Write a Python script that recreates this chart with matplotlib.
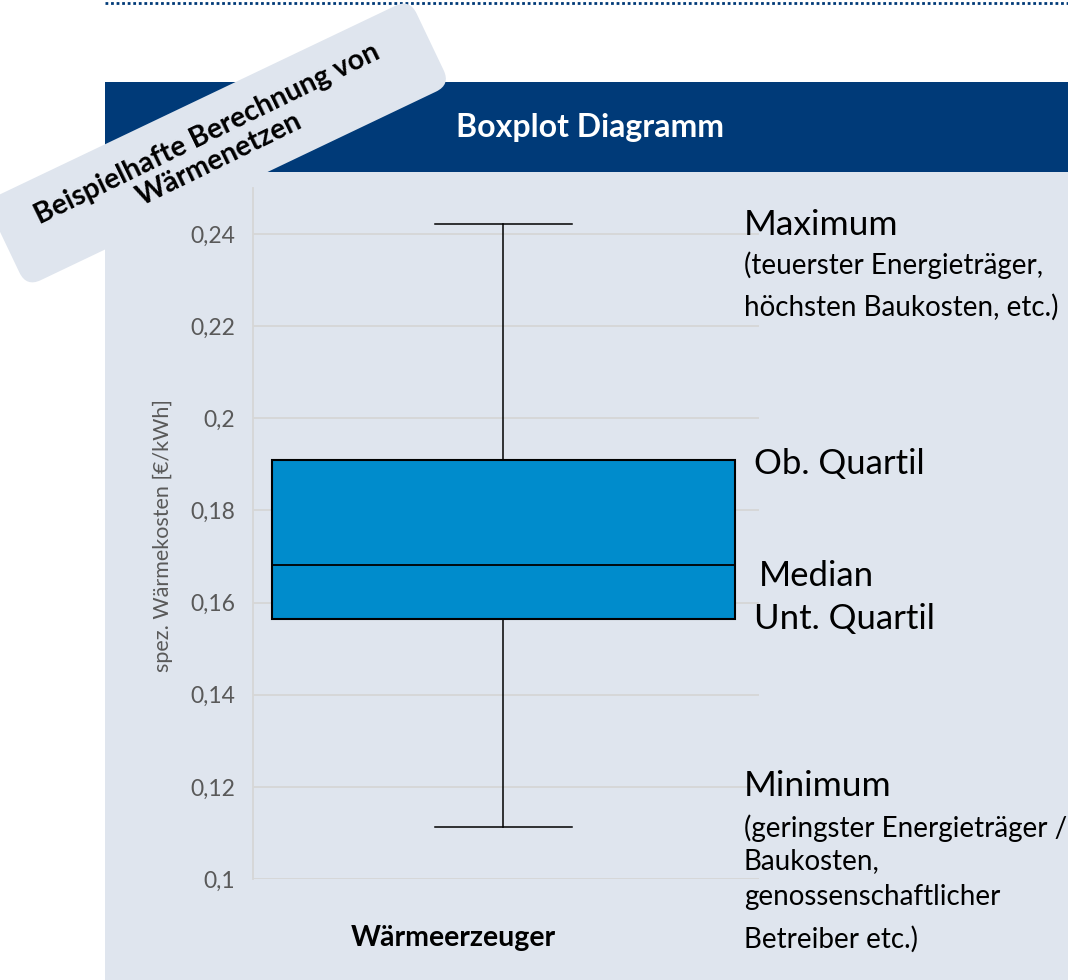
import matplotlib

matplotlib.use("Agg")
import matplotlib.pyplot as plt
from matplotlib.patches import FancyBboxPatch, Rectangle
from matplotlib.transforms import Affine2D

plt.rcParams["font.family"] = ["Lato", "DejaVu Sans"]

# box statistics
category = "Wärmeerzeuger"
whisker_low = 0.1113
q1 = 0.1564
median = 0.1682
q3 = 0.191
whisker_high = 0.2422

y_ticks = [0.10, 0.12, 0.14, 0.16, 0.18, 0.20, 0.22, 0.24]
y_tick_labels = ["0,1", "0,12", "0,14", "0,16", "0,18", "0,2", "0,22", "0,24"]

max_notes = ["Maximum", "(teuerster Energieträger,", "höchsten Baukosten, etc.)"]
min_notes = ["Minimum", "(geringster Energieträger /", "Baukosten,", "genossenschaftlicher", "Betreiber etc.)"]

W, H = 1068, 980
NAVY = "#003a78"
PANEL = "#dfe5ee"
BOX = "#008ccc"
GRID = "#d6d6d6"

fig = plt.figure(figsize=(W / 100, H / 100), dpi=100)
fig.patch.set_facecolor("white")

# background layer in pixel coordinates (y measured from top)
bg = fig.add_axes([0, 0, 1, 1], zorder=0)
bg.set_xlim(0, W)
bg.set_ylim(H, 0)
bg.axis("off")
bg.add_patch(Rectangle((105, 82), W - 105, H - 82, facecolor=PANEL, edgecolor="none"))
bg.add_patch(Rectangle((105, 82), W - 105, 90, facecolor=NAVY, edgecolor="none"))
bg.plot([105, W], [3, 3], color=NAVY, linestyle=(0, (1, 1)), linewidth=2.0)
bg.text(590, 128, "Boxplot Diagramm", color="white", fontsize=23, fontweight="bold",
        ha="center", va="center")

# main chart
left, right, top, bottom = 253, 759, 188, 879
ax = fig.add_axes([left / W, (H - bottom) / H, (right - left) / W, (bottom - top) / H], zorder=1)
ax.patch.set_alpha(0)
stats = [{
    "whislo": whisker_low, "q1": q1, "med": median, "q3": q3, "whishi": whisker_high,
    "fliers": [], "label": category,
}]
ax.bxp(stats, positions=[0.495], widths=[0.916], capwidths=[0.27], patch_artist=True,
       showfliers=False,
       boxprops=dict(facecolor=BOX, edgecolor="black", linewidth=1.5),
       medianprops=dict(color="black", linewidth=1.3),
       whiskerprops=dict(color="black", linewidth=1.1),
       capprops=dict(color="black", linewidth=1.1))
ax.set_xlim(0, 1)
ax.set_ylim(0.1, 0.25)
ax.set_yticks(y_ticks)
ax.set_yticklabels(y_tick_labels, fontsize=16.5, color="#595959")
ax.tick_params(axis="y", length=0, pad=13)
ax.set_xticks([])
ax.grid(axis="y", color=GRID, linewidth=1.3)
ax.set_axisbelow(True)
for side in ["top", "right", "bottom"]:
    ax.spines[side].set_visible(False)
ax.spines["left"].set_color(GRID)
ax.spines["left"].set_linewidth(1.3)

fig.text(163 / W, 1 - 536 / H, "spez. Wärmekosten [€/kWh]", rotation=90, color="#595959",
         fontsize=15.5, ha="center", va="center")
fig.text(453 / W, 1 - 938 / H, category, fontsize=20.5, fontweight="bold", ha="center", va="center")

# annotations on the right
ov = fig.add_axes([0, 0, 1, 1], zorder=3)
ov.set_xlim(0, W)
ov.set_ylim(0, H)
ov.axis("off")


def note(x, y, s, size):
    ov.text(x, H - y, s, fontsize=size, ha="left", va="baseline", color="black")


note(744, 235, max_notes[0], 25.5)
for y, line in zip([274, 316], max_notes[1:]):
    note(744, y, line, 20)
note(754, 474, "Ob. Quartil", 25)
note(759, 586, "Median", 25)
note(754, 629, "Unt. Quartil", 25)
note(744, 796, min_notes[0], 25.5)
for y, line in zip([837, 869, 905, 948], min_notes[1:]):
    note(744, y, line, 20)

# rotated tag in the top left corner
cx, cy, ang = 218, H - 143, 25.5
bw, bh = 470, 95
rot = Affine2D().rotate_deg_around(cx, cy, ang) + ov.transData
tag = FancyBboxPatch((cx - bw / 2, cy - bh / 2), bw, bh,
                     boxstyle="round,pad=0,rounding_size=16",
                     facecolor=PANEL, edgecolor="none", transform=rot)
ov.add_patch(tag)
ov.text(213, H - 147, "Beispielhafte Berechnung von\nWärmenetzen", rotation=26,
        rotation_mode="anchor", ha="center", va="center", fontsize=20.5, fontweight="bold",
        linespacing=1.1, color="black")

fig.savefig("out.png", dpi=100)
